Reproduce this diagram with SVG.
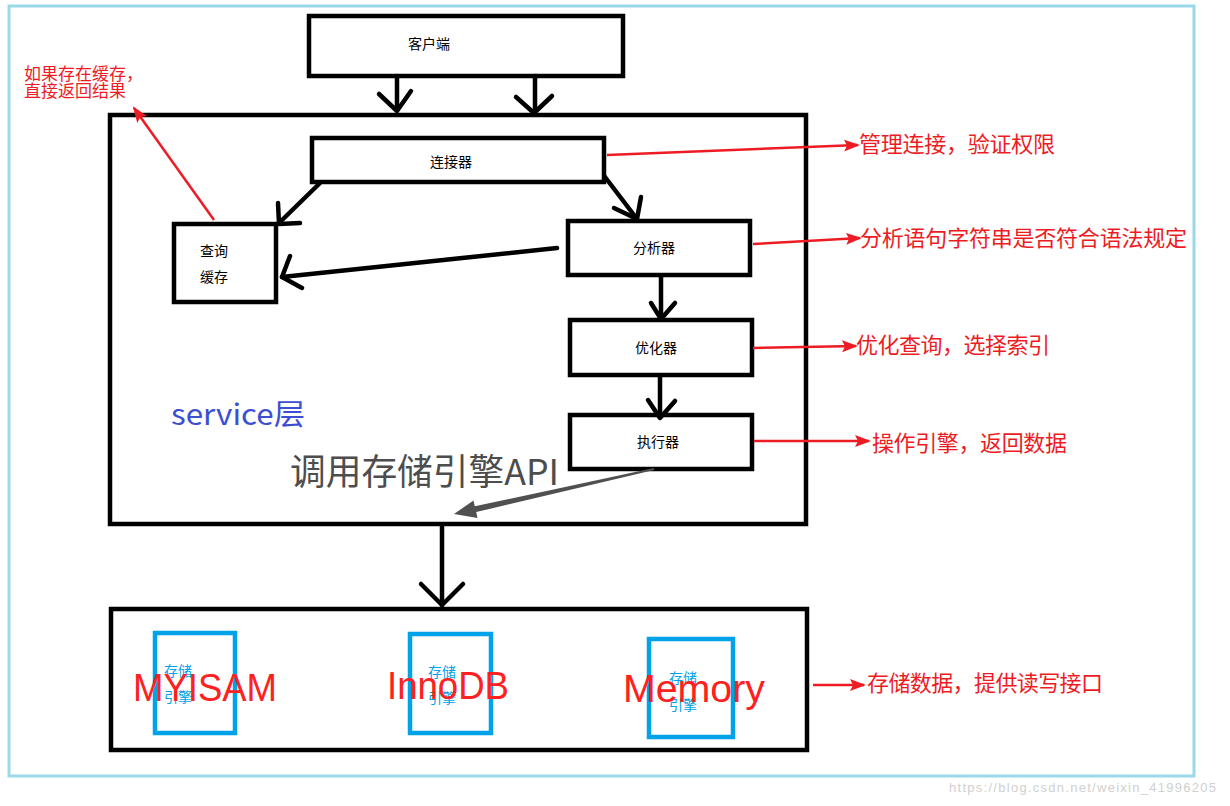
<svg xmlns="http://www.w3.org/2000/svg" width="1230" height="806" viewBox="0 0 1230 806">
<style>
.box{fill:#fff;stroke:#000;stroke-width:4.5}
.big{fill:none;stroke:#000;stroke-width:4.5}
.eng{fill:none;stroke:#00a2e8;stroke-width:4.5}
.lbl{font-family:"Noto Sans CJK SC","Noto Sans",sans-serif;font-size:14px;fill:#000}
.note{font-family:"Noto Sans CJK SC","Noto Sans",sans-serif;font-size:22px;fill:#ed1c24}
.blk{fill:none;stroke:#000;stroke-width:4.5;stroke-linecap:round;stroke-linejoin:round}
.red{fill:none;stroke:#ed1c24;stroke-width:2.5}
.etxt{font-family:"Noto Sans CJK SC","Noto Sans",sans-serif;font-size:14px;fill:#00a2e8}
.name{font-family:"Liberation Sans","Noto Sans CJK SC",sans-serif;font-size:38px;fill:#ff2020}
</style>
<defs>
<marker id="rh" markerUnits="userSpaceOnUse" markerWidth="16" markerHeight="12" refX="14" refY="6" orient="auto">
<path d="M0,0 L16,6 L0,12 L3,6 Z" fill="#ed1c24"/>
</marker>
</defs>
<rect x="0" y="0" width="1230" height="806" fill="#fff"/>
<rect x="9" y="6" width="1185" height="770" fill="none" stroke="#99d9ea" stroke-width="3"/>

<g id="client"><rect class="box" x="309" y="16" width="314" height="60"/><text class="lbl" x="408" y="49">客户端</text></g>
<g id="service"><rect class="big" x="110" y="115" width="696" height="409"/>
<text x="171" y="425" font-family="Noto Sans CJK SC,sans-serif" font-size="29" fill="#3c4fd2" textLength="134" lengthAdjust="spacingAndGlyphs">service层</text>
<text x="290" y="485" font-family="Noto Sans CJK SC,sans-serif" font-size="36" fill="#4d4d4d" textLength="269" lengthAdjust="spacingAndGlyphs">调用存储引擎API</text></g>
<g id="connector"><rect class="box" x="312" y="138" width="292" height="44"/><text class="lbl" x="451" y="167" text-anchor="middle">连接器</text></g>
<g id="cache"><rect class="box" x="174" y="224" width="102" height="78"/><text class="lbl" x="200" y="256">查询</text><text class="lbl" x="200" y="282">缓存</text></g>
<g id="parser"><rect class="box" x="568" y="221" width="182" height="54"/><text class="lbl" x="654" y="253" text-anchor="middle">分析器</text></g>
<g id="optimizer"><rect class="box" x="570" y="320" width="182" height="55"/><text class="lbl" x="656" y="353" text-anchor="middle">优化器</text></g>
<g id="executor"><rect class="box" x="570" y="415" width="182" height="54"/><text class="lbl" x="658" y="447" text-anchor="middle">执行器</text></g>

<g id="storage"><rect class="big" x="111" y="609" width="696" height="141"/></g>
<g id="myisam"><rect class="eng" x="155" y="633" width="80" height="100"/><text class="etxt" x="164" y="676">存储</text><text class="etxt" x="164" y="702">引擎</text><text class="name" x="133" y="701" textLength="144" lengthAdjust="spacingAndGlyphs">MYISAM</text></g>
<g id="innodb"><rect class="eng" x="410" y="634" width="81" height="99"/><text class="etxt" x="428" y="677">存储</text><text class="etxt" x="428" y="703">引擎</text><text class="name" x="387" y="699" textLength="122" lengthAdjust="spacingAndGlyphs">InnoDB</text></g>
<g id="memory"><rect class="eng" x="649" y="639" width="84" height="98"/><text class="etxt" x="669" y="683">存储</text><text class="etxt" x="669" y="710">引擎</text><text class="name" x="623" y="702" textLength="142" lengthAdjust="spacingAndGlyphs">Memory</text></g>

<g id="notes">
<text class="note" x="859" y="152" textLength="196">管理连接，验证权限</text>
<text class="note" x="860" y="246" textLength="327">分析语句字符串是否符合语法规定</text>
<text class="note" x="856" y="353" textLength="194">优化查询，选择索引</text>
<text class="note" x="872" y="451" textLength="195">操作引擎，返回数据</text>
<text class="note" x="867" y="691" textLength="236">存储数据，提供读写接口</text>
<text x="24" y="80" font-family="Noto Sans CJK SC,sans-serif" font-size="17" fill="#ed1c24">如果存在缓存，</text>
<text x="24" y="97" font-family="Noto Sans CJK SC,sans-serif" font-size="17" fill="#ed1c24">直接返回结果</text>
</g>

<g id="connectors">
<line class="blk" x1="397" y1="76" x2="397" y2="110"/><polyline class="blk" points="379,94 397,111 411,91"/>
<line class="blk" x1="535" y1="76" x2="535" y2="112"/><polyline class="blk" points="516,97 534,113 552,96"/>
<line class="blk" x1="320" y1="183" x2="279" y2="223"/><polyline class="blk" points="278,203 279,224 300,223"/>
<line class="blk" x1="605" y1="177" x2="637" y2="219"/><polyline class="blk" points="614,208 637,219 641,197"/>
<line class="blk" x1="557" y1="248" x2="282" y2="277"/><polyline class="blk" points="290,256 282,277 302,288"/>
<line class="blk" x1="661" y1="276" x2="661" y2="318"/><polyline class="blk" points="651,303 661,319 675,303"/>
<line class="blk" x1="660" y1="376" x2="660" y2="417"/><polyline class="blk" points="648,400 660,418 675,401"/>
<line class="blk" x1="442" y1="526" x2="442" y2="605"/><polyline class="blk" points="421,584 442,605 463,584"/>
<polygon points="653.8,468 474.8,506.3 473.5,500.4 454,514 477.5,518 476.2,512.1 654.2,470" fill="#505050"/>
<line class="red" x1="607" y1="155" x2="858" y2="145" marker-end="url(#rh)"/>
<line class="red" x1="753" y1="244" x2="860" y2="238" marker-end="url(#rh)"/>
<line class="red" x1="753" y1="348" x2="856" y2="346" marker-end="url(#rh)"/>
<line class="red" x1="754" y1="441" x2="869" y2="441" marker-end="url(#rh)"/>
<line class="red" x1="813" y1="685" x2="864" y2="685" marker-end="url(#rh)"/>
<line class="red" x1="214" y1="220" x2="134" y2="108" marker-end="url(#rh)"/>
</g>
<text x="949" y="792" font-family="Liberation Sans,sans-serif" font-size="13" fill="#d0d0d0" textLength="267">https://blog.csdn.net/weixin_41996205</text>
</svg>
